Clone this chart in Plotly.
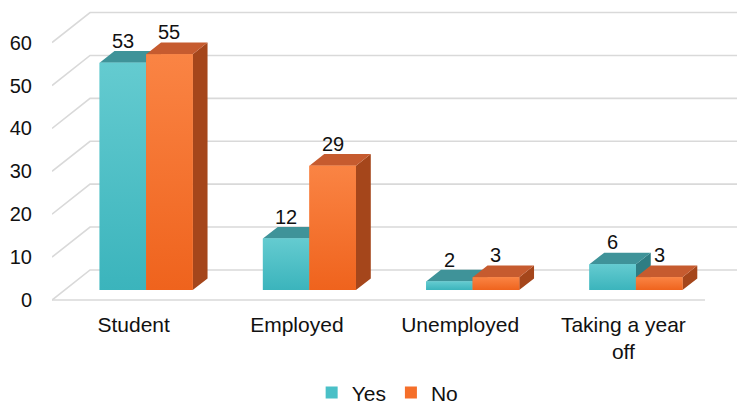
import plotly.graph_objects as go

# ---- data ----
categories = ["Student", "Employed", "Unemployed", "Taking a year<br>off"]
yes_values = [53, 12, 2, 6]
no_values = [55, 29, 3, 3]
y_ticks = [0, 10, 20, 30, 40, 50, 60]

# ---- pseudo-3D geometry (in axis units) ----
DEPTH_X = 0.233      # full floor depth, horizontal component (category units)
DEPTH_Y = 7.0        # full floor depth, vertical component (value units)
BAR_FRONT = 0.33     # depth fraction where bar front faces sit
BAR_DEPTH = 0.39     # depth fraction occupied by the bars
BAR_W = 0.285        # bar width (category units)
X_MAX = 4.196

sx = BAR_FRONT * DEPTH_X
base = BAR_FRONT * DEPTH_Y
ddx = BAR_DEPTH * DEPTH_X
ddy = BAR_DEPTH * DEPTH_Y

FONT = "Arial, Liberation Sans, sans-serif"
GRID = "#d9d9d9"

colors = {
    "Yes": {"front": "#4ac0c7", "light": "#64cbd0", "dark": "#3bb4bc",
            "top": "#3f9399", "side": "#2f7d83"},
    "No": {"front": "#f56f2a", "light": "#fa8444", "dark": "#ef631d",
           "top": "#c65b2f", "side": "#a5461b"},
}

fig = go.Figure()

# walls: side-wall diagonals + back-wall gridlines, and the floor front edge
wx, wy = [], []
for v in y_ticks:
    wx += [0, DEPTH_X, X_MAX, None]
    wy += [v, v + DEPTH_Y, v + DEPTH_Y, None]
wx += [0, len(categories), None]
wy += [0, 0, None]
fig.add_trace(go.Scatter(x=wx, y=wy, mode="lines", line=dict(color=GRID, width=1.6),
                         hoverinfo="skip", showlegend=False, zorder=0))


def faces(x_left, values):
    tx, ty, sxs, sys_ = [], [], [], []
    for x0, v in zip(x_left, values):
        x1 = x0 + BAR_W
        yt = v + base
        tx += [x0, x1, x1 + ddx, x0 + ddx, x0, None]
        ty += [yt, yt, yt + ddy, yt + ddy, yt, None]
        sxs += [x1, x1, x1 + ddx, x1 + ddx, x1, None]
        sys_ += [base, yt, yt + ddy, base + ddy, base, None]
    return tx, ty, sxs, sys_


series = [("Yes", yes_values, -1), ("No", no_values, 0)]
for k, (name, vals, shift) in enumerate(series):
    x_left = [i + 0.5 + sx + shift * BAR_W for i in range(len(categories))]
    tx, ty, sxs, sys_ = faces(x_left, vals)
    c = colors[name]
    z = 1 + 2 * k
    fig.add_trace(go.Scatter(x=sxs, y=sys_, mode="lines", fill="toself", fillcolor=c["side"],
                             line=dict(width=0, color=c["side"]), hoverinfo="skip",
                             showlegend=False, zorder=z))
    fig.add_trace(go.Scatter(x=tx, y=ty, mode="lines", fill="toself", fillcolor=c["top"],
                             line=dict(width=0, color=c["top"]), hoverinfo="skip",
                             showlegend=False, zorder=z))
    centers = [x + BAR_W / 2 for x in x_left]
    fig.add_trace(go.Bar(x=centers, y=vals, base=base, width=BAR_W, name=name,
                         marker=dict(color=c["front"], line=dict(width=0)), zorder=z + 1))
    # vertical shading of each front face (light at the top, deeper at the base)
    for x0, v in zip(x_left, vals):
        x1 = x0 + BAR_W
        fig.add_trace(go.Scatter(
            x=[x0, x1, x1, x0, x0], y=[base, base, v + base, v + base, base],
            mode="lines", fill="toself", line=dict(width=0, color=c["front"]),
            fillgradient=dict(type="vertical",
                              colorscale=[[0, c["dark"]], [1, c["light"]]]),
            hoverinfo="skip", showlegend=False, zorder=z + 1))
    for xc, v in zip(centers, vals):
        fig.add_annotation(x=xc, y=v + base, text=str(v), showarrow=False,
                           yanchor="bottom", yshift=9,
                           font=dict(family=FONT, size=20, color="#111111"))

fig.update_layout(
    width=737, height=408,
    margin=dict(l=52, r=0, t=0, b=103),
    paper_bgcolor="white", plot_bgcolor="white",
    barmode="overlay",
    font=dict(family=FONT, size=20, color="#111111"),
    legend=dict(orientation="h", x=0.49, xanchor="center", yref="container", y=0.037,
                yanchor="middle", font=dict(size=21), itemwidth=30),
    xaxis=dict(range=[0, X_MAX], tickvals=[i + 0.5 for i in range(len(categories))],
               ticktext=categories, showgrid=False, zeroline=False, showline=False,
               ticks="", ticklabelstandoff=5, tickfont=dict(size=21), fixedrange=True),
    yaxis=dict(range=[-1.166, 69.93], tickvals=y_ticks, showgrid=False, zeroline=False,
               showline=False, ticks="", ticklabelstandoff=19, fixedrange=True),
    showlegend=True,
)

fig.write_html("out.html")
